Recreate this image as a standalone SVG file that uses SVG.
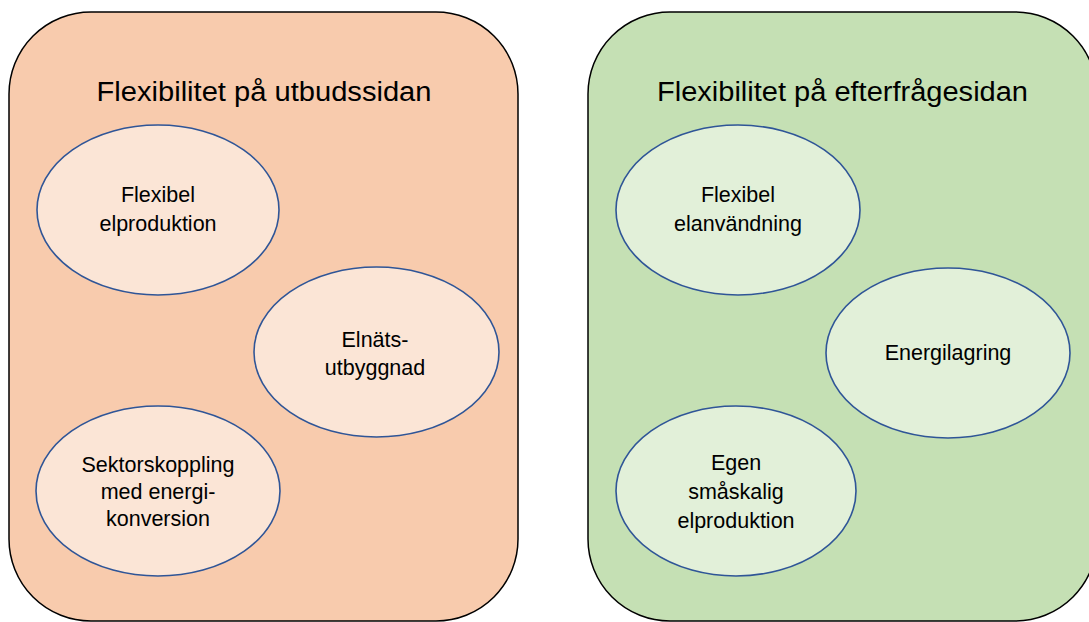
<svg xmlns="http://www.w3.org/2000/svg" width="1089" height="622" viewBox="0 0 1089 622">
  <style>
    .panel { stroke: #000; stroke-width: 1.5; }
    .supply { fill: #F8CBAD; }
    .demand { fill: #C5E0B4; }
    .bubble { stroke: #2F5597; stroke-width: 1.6; }
    .bubble.supply { fill: #FBE5D6; }
    .bubble.demand { fill: #E2F0D9; }
    text { font-family: "Liberation Sans", Arial, sans-serif; fill: #000; text-anchor: middle; }
    .title { font-size: 27px; }
    .label { font-size: 21.5px; }
  </style>

  <!-- Supply side -->
  <g id="panel-supply">
    <rect class="panel supply" x="9" y="12" width="509" height="609" rx="82" ry="82"/>
    <text class="title" x="264" y="101" textLength="335" lengthAdjust="spacingAndGlyphs">Flexibilitet på utbudssidan</text>
  </g>
  <g id="node-flexibel-elproduktion">
    <ellipse class="bubble supply" cx="158" cy="210" rx="121" ry="85"/>
    <text class="label" x="158" y="202">Flexibel</text>
    <text class="label" x="158" y="231">elproduktion</text>
  </g>
  <g id="node-elnatsutbyggnad">
    <ellipse class="bubble supply" cx="376.5" cy="352" rx="122.5" ry="85"/>
    <text class="label" x="375" y="347">Elnäts-</text>
    <text class="label" x="375" y="375">utbyggnad</text>
  </g>
  <g id="node-sektorskoppling">
    <ellipse class="bubble supply" cx="158" cy="491" rx="122" ry="85"/>
    <text class="label" x="158" y="472">Sektorskoppling</text>
    <text class="label" x="158" y="499">med energi-</text>
    <text class="label" x="158" y="526">konversion</text>
  </g>

  <!-- Demand side (panel runs past the right edge of the canvas) -->
  <g id="panel-demand">
    <rect class="panel demand" x="588" y="12" width="509" height="609" rx="82" ry="82"/>
    <text class="title" x="842.5" y="101" textLength="371" lengthAdjust="spacingAndGlyphs">Flexibilitet på efterfrågesidan</text>
  </g>
  <g id="node-flexibel-elanvandning">
    <ellipse class="bubble demand" cx="738" cy="210" rx="122" ry="85"/>
    <text class="label" x="738" y="202">Flexibel</text>
    <text class="label" x="738" y="231">elanvändning</text>
  </g>
  <g id="node-energilagring">
    <ellipse class="bubble demand" cx="948" cy="353" rx="122" ry="85"/>
    <text class="label" x="948" y="360">Energilagring</text>
  </g>
  <g id="node-egen-smaskalig">
    <ellipse class="bubble demand" cx="736" cy="491" rx="120" ry="85"/>
    <text class="label" x="736" y="470">Egen</text>
    <text class="label" x="736" y="499">småskalig</text>
    <text class="label" x="736" y="528">elproduktion</text>
  </g>

  <!-- no connectors in this figure -->
  <g id="connectors"/>
</svg>
